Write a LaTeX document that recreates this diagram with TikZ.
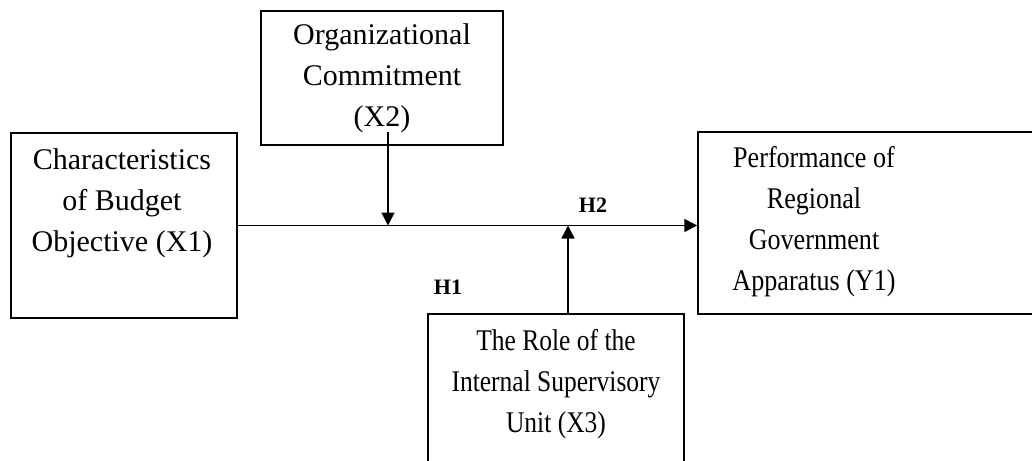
\documentclass[tikz,border=0pt]{standalone}
\usepackage{fontspec}
\setmainfont{Liberation Serif}
\usetikzlibrary{arrows.meta}
\newcommand{\narrowlines}[2]{\scalebox{#1}[1]{\begin{tabular}{@{}c@{}}#2\end{tabular}}}
\begin{document}
\begin{tikzpicture}[x=0.5pt,y=-0.5pt,
  box/.style={draw=black,line width=0.75pt,rectangle,inner sep=0pt},
  lbl/.style={align=center,font=\fontsize{15}{20.5}\selectfont,inner sep=0pt},
  hyp/.style={font=\fontsize{11}{13}\selectfont\bfseries,inner sep=0pt},
  arr/.style={line width=0.75pt,-{Triangle[length=6.5pt,width=6.5pt]}}]
\clip (0,0) rectangle (1032,460);
\fill[white] (0,0) rectangle (1032,460);
% boxes
\node[box,minimum width=113pt,minimum height=92.5pt] (X1) at (124,225.5) {};
\node[box,minimum width=121pt,minimum height=67pt] (X2) at (382,78) {};
\node[box,minimum width=171pt,minimum height=91pt] (Y1) at (869,223) {};
\node[box,minimum width=128pt,minimum height=78pt] (X3) at (556,392) {};
% texts
\node[lbl] (tX1) at (122,203) {Characteristics\\of Budget\\Objective (X1)};
\node[lbl] (tX2) at (382,78) {Organizational\\Commitment\\(X2)};
\node[lbl] (tY1) at (814,221) {\narrowlines{0.87}{Performance of\\Regional\\Government\\Apparatus (Y1)}};
\node[lbl] (tX3) at (556,383) {\narrowlines{0.85}{The Role of the\\Internal Supervisory\\Unit (X3)}};
\node[hyp] (H1) at (448,287) {H1};
\node[hyp] (H2) at (593,205) {H2};
% connectors
\coordinate (x2s) at (388,132);
\coordinate (x3s) at (568,314);
\draw[arr] (X1.east) -- (X1.east -| Y1.west);
\draw[arr] (x2s) -- (x2s |- X1.east);
\draw[arr] (x3s) -- (x3s |- X1.east);
\end{tikzpicture}
\end{document}
